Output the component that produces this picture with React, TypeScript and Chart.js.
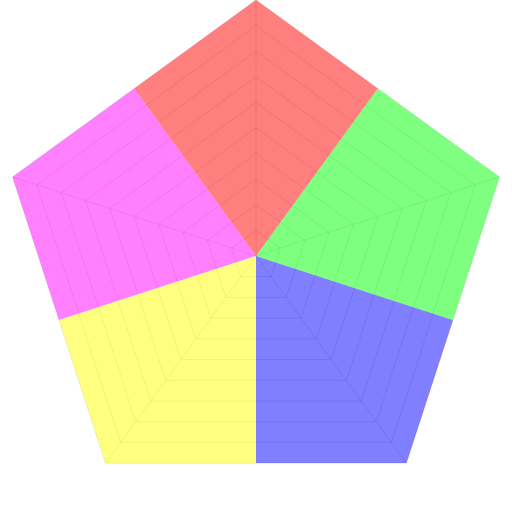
import React, { useEffect, useRef } from 'react';
import Chart from 'chart.js/auto';

// ten spokes: the five corners of the pentagon and the middle of each edge between them
const spokes = ['A', 'AB', 'B', 'BC', 'C', 'CD', 'D', 'DE', 'E', 'EA'];
// five spokes for the visible grid
const corners = ['A', 'B', 'C', 'D', 'E'];

const redValues = [10, 8.09, 0, 0, 0, 0, 0, 0, 0, 8.09];
const greenValues = [0, 8.09, 10, 8.09, 0, 0, 0, 0, 0, 0];
const blueValues = [0, 0, 0, 8.09, 10, 8.09, 0, 0, 0, 0];
const yellowValues = [0, 0, 0, 0, 0, 8.09, 10, 8.09, 0, 0];
const magentaValues = [0, 0, 0, 0, 0, 0, 0, 8.09, 10, 8.09];

const App: React.FC = () => {
  const canvasRef = useRef<HTMLCanvasElement>(null);
  const chartRef = useRef<Chart | null>(null);

  useEffect(() => {
    if (!canvasRef.current) return;

    if (chartRef.current) {
      chartRef.current.destroy();
    }

    const wedge = (data: number[], color: string) => ({
      data,
      backgroundColor: color,
      borderWidth: 0,
      pointRadius: 0,
      pointHoverRadius: 0,
      fill: true,
      tension: 0,
    });

    chartRef.current = new Chart(canvasRef.current, {
      type: 'radar',
      data: {
        labels: spokes,
        datasets: [
          wedge(redValues, 'rgba(255, 0, 0, 0.5)'),
          wedge(greenValues, 'rgba(0, 255, 0, 0.5)'),
          wedge(blueValues, 'rgba(0, 0, 255, 0.5)'),
          wedge(yellowValues, 'rgba(255, 255, 0, 0.5)'),
          wedge(magentaValues, 'rgba(255, 0, 255, 0.5)'),
        ],
      },
      options: {
        responsive: true,
        maintainAspectRatio: false,
        animation: false,
        layout: { padding: 0 },
        scales: {
          r: {
            min: 0,
            max: 10,
            grid: { display: false },
            angleLines: { display: false },
            ticks: { display: false },
            pointLabels: { display: false },
          },
          rGrid: {
            type: 'radialLinear',
            axis: 'r',
            labels: corners,
            min: 0,
            max: 10,
            ticks: { display: false, stepSize: 1 },
            pointLabels: { display: false },
            grid: { circular: false, color: 'rgba(0, 0, 0, 0.1)' },
            angleLines: { display: true, color: 'rgba(0, 0, 0, 0.1)' },
          },
        },
        plugins: {
          legend: { display: false },
          tooltip: { enabled: false },
        },
      },
    } as any);

    return () => {
      if (chartRef.current) {
        chartRef.current.destroy();
        chartRef.current = null;
      }
    };
  }, []);

  return (
    <div style={{ position: 'absolute', left: 0, top: 0, width: '512px', height: '512px' }}>
      <canvas ref={canvasRef}></canvas>
    </div>
  );
};

export default App;
